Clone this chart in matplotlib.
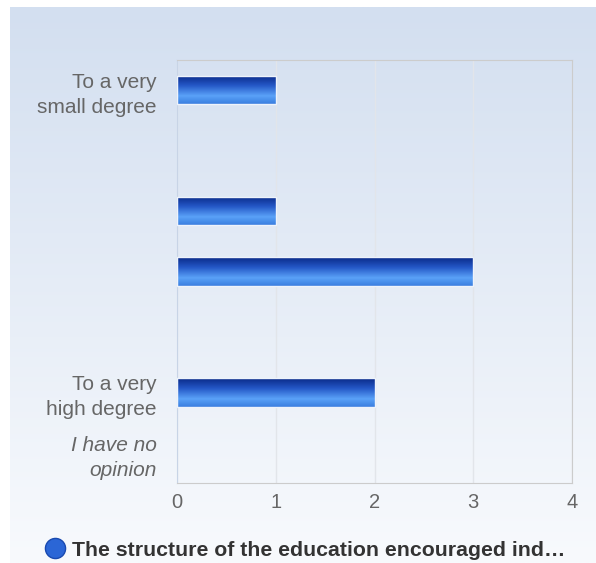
import matplotlib.pyplot as plt
import numpy as np
from matplotlib.colors import LinearSegmentedColormap
from matplotlib.lines import Line2D

categories = ["To a very\nsmall degree", "", "", "", "",
              "To a very\nhigh degree", "I have no\nopinion"]
counts = [1, 0, 1, 3, 0, 2, 0]
x_ticks = [0, 1, 2, 3, 4]
series_name = "The structure of the education encouraged ind\u2026"

plt.rcParams['font.family'] = ['Liberation Sans', 'DejaVu Sans']

fig = plt.figure(figsize=(5.96, 5.63), dpi=100)

# background panel with a soft vertical gradient
bg = fig.add_axes([10 / 596, 0, 1 - 10 / 596, 1 - 7 / 563], zorder=-10)
bg_cmap = LinearSegmentedColormap.from_list('bg', ['#f8fafd', '#d3dff0'])
bg.imshow(np.linspace(0, 1, 256).reshape(-1, 1), aspect='auto', cmap=bg_cmap,
          origin='lower', extent=[0, 1, 0, 1])
bg.set_axis_off()

ax = fig.add_axes([177 / 596, 1 - 483 / 563, (572 - 177) / 596, (483 - 60) / 563])
ax.patch.set_alpha(0)

y = np.arange(len(categories))
edge = ['#eef3fb' if c > 0 else 'none' for c in counts]
bars = ax.barh(y, counts, height=0.47, color='none', edgecolor=edge,
               linewidth=1, zorder=3)

bar_cmap = LinearSegmentedColormap.from_list(
    'bar', [(0, '#0a2a88'), (0.35, '#2457c6'), (0.72, '#5aa2f8'), (1, '#3a7ee0')])
grad = np.linspace(0, 1, 64).reshape(-1, 1)
for b in bars:
    if b.get_width() <= 0:
        continue
    x0, y0 = b.get_x(), b.get_y()
    im = ax.imshow(grad, aspect='auto', cmap=bar_cmap, origin='upper',
                   extent=[x0, x0 + b.get_width(), y0 + b.get_height(), y0], zorder=2)
    im.set_clip_path(b)

ax.set_xlim(0, 4)
ax.set_ylim(len(categories) - 0.5, -0.5)
ax.set_aspect('auto')
ax.set_xticks(x_ticks)
ax.set_xticklabels([str(t) for t in x_ticks], fontsize=14.5, color='#666666')
ax.set_yticks(y)
ax.set_yticklabels(categories, fontsize=15, color='#666666', linespacing=1.4)
ax.get_yticklabels()[-1].set_style('italic')
ax.tick_params(axis='both', length=0)
ax.tick_params(axis='x', pad=7)
ax.tick_params(axis='y', pad=14.5)

ax.grid(axis='x', color='#e2e5ea', linewidth=1, zorder=0)
for side in ['top', 'right', 'bottom']:
    ax.spines[side].set_color('#cccccc')
ax.spines['left'].set_color('#c8d4e6')

handle = Line2D([], [], marker='o', linestyle='', markersize=14.5,
                markerfacecolor='#2b66d6', markeredgecolor='#1a4ab0')
fig.legend(handles=[handle], labels=[series_name], loc='center',
           bbox_to_anchor=(0.512, 1 - 550 / 563), frameon=False,
           prop={'weight': 'bold', 'size': 15.3}, labelcolor='#333333',
           handletextpad=0.3, handlelength=1.0)

fig.savefig('out.png', dpi=100)
